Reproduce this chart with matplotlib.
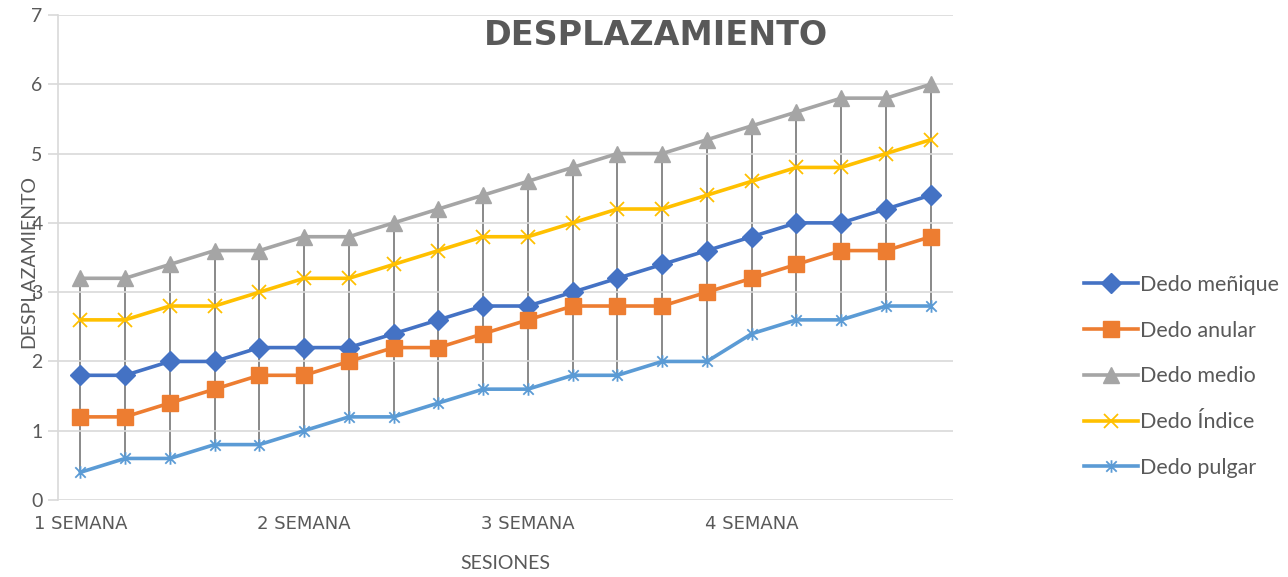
import matplotlib.pyplot as plt
import numpy as np
from matplotlib.path import Path

plt.rcParams['font.family'] = ['Lato', 'DejaVu Sans']

# datos
sesiones = np.arange(20)
etiquetas_x = ['1 SEMANA', '2 SEMANA', '3 SEMANA', '4 SEMANA']
pos_etiquetas = [0, 5, 10, 15]

menique = [1.8, 1.8, 2.0, 2.0, 2.2, 2.2, 2.2, 2.4, 2.6, 2.8, 2.8, 3.0, 3.2, 3.4, 3.6, 3.8, 4.0, 4.0, 4.2, 4.4]
anular = [1.2, 1.2, 1.4, 1.6, 1.8, 1.8, 2.0, 2.2, 2.2, 2.4, 2.6, 2.8, 2.8, 2.8, 3.0, 3.2, 3.4, 3.6, 3.6, 3.8]
medio = [3.2, 3.2, 3.4, 3.6, 3.6, 3.8, 3.8, 4.0, 4.2, 4.4, 4.6, 4.8, 5.0, 5.0, 5.2, 5.4, 5.6, 5.8, 5.8, 6.0]
indice = [2.6, 2.6, 2.8, 2.8, 3.0, 3.2, 3.2, 3.4, 3.6, 3.8, 3.8, 4.0, 4.2, 4.2, 4.4, 4.6, 4.8, 4.8, 5.0, 5.2]
pulgar = [0.4, 0.6, 0.6, 0.8, 0.8, 1.0, 1.2, 1.2, 1.4, 1.6, 1.6, 1.8, 1.8, 2.0, 2.0, 2.4, 2.6, 2.6, 2.8, 2.8]

nombres = ['Dedo meñique', 'Dedo anular', 'Dedo medio', 'Dedo Índice', 'Dedo pulgar']
colores = ['#4472C4', '#ED7D31', '#A5A5A5', '#FFC000', '#5B9BD5']

# marcador asterisco tipo Excel (x + linea vertical)
estrella = Path([(-1, -1), (1, 1), (-1, 1), (1, -1), (0, -1.2), (0, 1.2)],
                [Path.MOVETO, Path.LINETO, Path.MOVETO, Path.LINETO, Path.MOVETO, Path.LINETO])

gris = '#595959'
fig = plt.figure(figsize=(12.88, 5.77), dpi=100)
ax = fig.add_axes([0.045, 0.1334, 0.695, 0.8406])

series = [menique, anular, medio, indice, pulgar]
datos = np.array(series)

# lineas alto-bajo
ax.vlines(sesiones, datos.min(axis=0), datos.max(axis=0), color='#808080', lw=1.3, zorder=1)

estilos = [
    dict(marker='D', markersize=10),
    dict(marker='s', markersize=12),
    dict(marker='^', markersize=12),
    dict(marker='x', markersize=10, markeredgewidth=1.3),
    dict(marker=estrella, markersize=9, markeredgewidth=1.3),
]
for vals, nom, col, est in zip(series, nombres, colores, estilos):
    ax.plot(sesiones, vals, color=col, lw=2.6, label=nom, zorder=3,
            markerfacecolor=col, markeredgecolor=col, **est)

ax.set_xlim(-0.5, 19.5)
ax.set_ylim(0, 7)
ax.set_yticks(range(8))
ax.set_xticks(pos_etiquetas)
ax.set_xticklabels(etiquetas_x, family='DejaVu Sans')
ax.grid(axis='y', color='#d9d9d9', lw=1.2, zorder=0)
for s in ['top', 'right', 'bottom']:
    ax.spines[s].set_visible(False)
ax.spines['left'].set_color('#d9d9d9')
ax.spines['left'].set_linewidth(1.2)
ax.tick_params(axis='y', colors='#d9d9d9', length=7, width=1.2, labelcolor=gris, labelsize=14, pad=4)
ax.tick_params(axis='x', length=0, labelcolor=gris, labelsize=13, pad=11)

fig.text(0.509, 0.938, 'DESPLAZAMIENTO', ha='center', va='center', fontsize=24,
         fontweight='bold', color=gris, family='DejaVu Sans')
fig.text(0.022, 0.546, 'DESPLAZAMIENTO', rotation=90, ha='center', va='center',
         fontsize=14, color=gris)
fig.text(0.392, 0.024, 'SESIONES', ha='center', va='center', fontsize=14, color=gris)

ax.legend(loc='center left', bbox_to_anchor=(1.125, 0.255), frameon=False, fontsize=15.5,
          labelcolor=gris, handlelength=2.5, handletextpad=0.1, labelspacing=1.2)

fig.savefig('out.png', dpi=100)
